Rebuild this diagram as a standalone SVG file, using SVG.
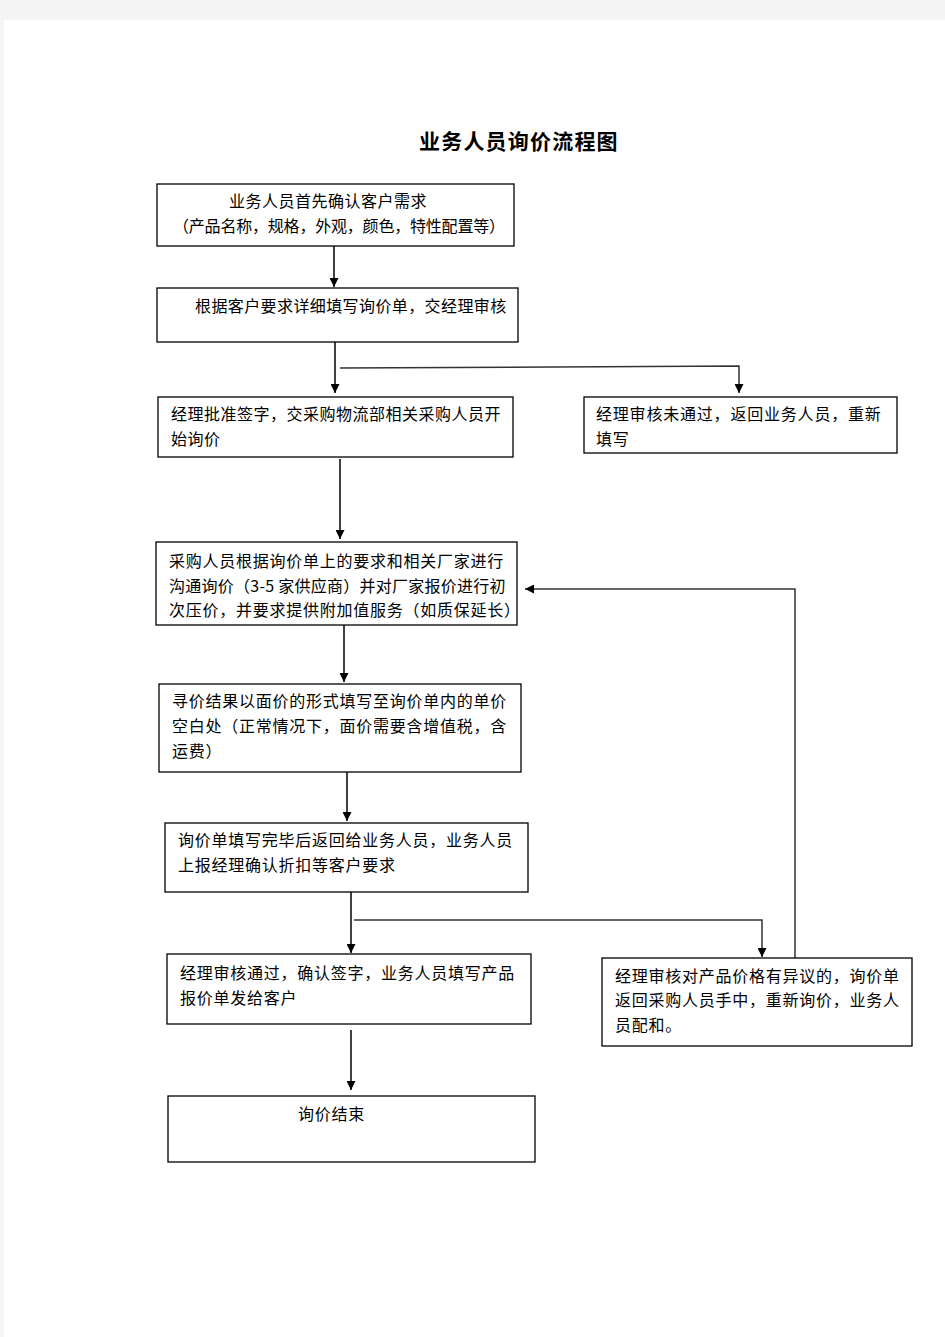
<svg xmlns="http://www.w3.org/2000/svg" width="945" height="1337" viewBox="0 0 945 1337">
<defs>
<style>
.box{fill:#fff;stroke:#000;stroke-width:1.3}
.t{font-family:"Noto Sans CJK SC","Liberation Sans",sans-serif;font-size:16px;fill:#000;letter-spacing:0.75px}
.title{font-family:"Noto Sans CJK SC","Liberation Serif",serif;font-size:21px;font-weight:bold;fill:#000;letter-spacing:1.2px}
.ln{fill:none;stroke:#000;stroke-width:1.5}
.ln2{fill:none;stroke:#333;stroke-width:1.5}
</style>
<marker id="arr" viewBox="0 0 10 10" refX="10" refY="5" markerWidth="9" markerHeight="9" markerUnits="userSpaceOnUse" orient="auto">
<path d="M0,0 L10,5 L0,10 z" fill="#000"/>
</marker>
</defs>
<rect x="0" y="0" width="945" height="1337" fill="#f4f4f4"/>
<rect x="4" y="20" width="941" height="1317" fill="#fff"/>
<text class="title" x="419" y="149">业务人员询价流程图</text>

<g id="connectors">
<line class="ln" x1="334" y1="246" x2="334" y2="287" marker-end="url(#arr)"/>
<line class="ln" x1="335" y1="342" x2="335" y2="393" marker-end="url(#arr)"/>
<polyline class="ln2" points="340,368 739,366 739,393" marker-end="url(#arr)"/>
<line class="ln" x1="340" y1="459" x2="340" y2="539" marker-end="url(#arr)"/>
<line class="ln" x1="344" y1="625" x2="344" y2="682" marker-end="url(#arr)"/>
<line class="ln" x1="347" y1="772" x2="347" y2="821" marker-end="url(#arr)"/>
<line class="ln" x1="351" y1="892" x2="351" y2="953" marker-end="url(#arr)"/>
<polyline class="ln2" points="354,920 762,920 762,957" marker-end="url(#arr)"/>
<polyline class="ln2" points="795,958 795,589 525,589" marker-end="url(#arr)"/>
<line class="ln" x1="351" y1="1030" x2="351" y2="1090" marker-end="url(#arr)"/>
</g>

<g id="n1">
<rect class="box" x="157" y="184" width="357" height="62"/>
<text class="t" x="229" y="207" style="letter-spacing:0.5px">业务人员首先确认客户需求</text>
<text class="t" x="173" y="232" style="letter-spacing:-0.2px">（产品名称，规格，外观，颜色，特性配置等）</text>
</g>
<g id="n2">
<rect class="box" x="157" y="288" width="361" height="54"/>
<text class="t" x="195" y="312" style="letter-spacing:0.4px">根据客户要求详细填写询价单，交经理审核</text>
</g>
<g id="n3">
<rect class="box" x="158" y="397" width="355" height="60"/>
<text class="t" x="171" y="420" style="letter-spacing:0.5px">经理批准签字，交采购物流部相关采购人员开</text>
<text class="t" x="171" y="445" style="letter-spacing:0.5px">始询价</text>
</g>
<g id="n4">
<rect class="box" x="584" y="397" width="313" height="56"/>
<text class="t" x="596" y="420" style="letter-spacing:0.8px">经理审核未通过，返回业务人员，重新</text>
<text class="t" x="596" y="445" style="letter-spacing:0.8px">填写</text>
</g>
<g id="n5">
<rect class="box" x="156" y="542" width="361" height="83"/>
<text class="t" x="169" y="567">采购人员根据询价单上的要求和相关厂家进行</text>
<text class="t" x="169" y="592" style="letter-spacing:0.25px">沟通询价（3-5 家供应商）并对厂家报价进行初</text>
<text class="t" x="169" y="616">次压价，并要求提供附加值服务（如质保延长）</text>
</g>
<g id="n6">
<rect class="box" x="159" y="684" width="362" height="88"/>
<text class="t" x="172" y="707">寻价结果以面价的形式填写至询价单内的单价</text>
<text class="t" x="172" y="732">空白处（正常情况下，面价需要含增值税，含</text>
<text class="t" x="172" y="757">运费）</text>
</g>
<g id="n7">
<rect class="box" x="165" y="823" width="363" height="69"/>
<text class="t" x="178" y="846">询价单填写完毕后返回给业务人员，业务人员</text>
<text class="t" x="178" y="871">上报经理确认折扣等客户要求</text>
</g>
<g id="n8">
<rect class="box" x="167" y="954" width="364" height="70"/>
<text class="t" x="180" y="979">经理审核通过，确认签字，业务人员填写产品</text>
<text class="t" x="180" y="1004">报价单发给客户</text>
</g>
<g id="n9">
<rect class="box" x="602" y="958" width="310" height="88"/>
<text class="t" x="615" y="982">经理审核对产品价格有异议的，询价单</text>
<text class="t" x="615" y="1006">返回采购人员手中，重新询价，业务人</text>
<text class="t" x="615" y="1031">员配和。</text>
</g>
<g id="n10">
<rect class="box" x="168" y="1096" width="367" height="66"/>
<text class="t" x="298" y="1120">询价结束</text>
</g>
</svg>
